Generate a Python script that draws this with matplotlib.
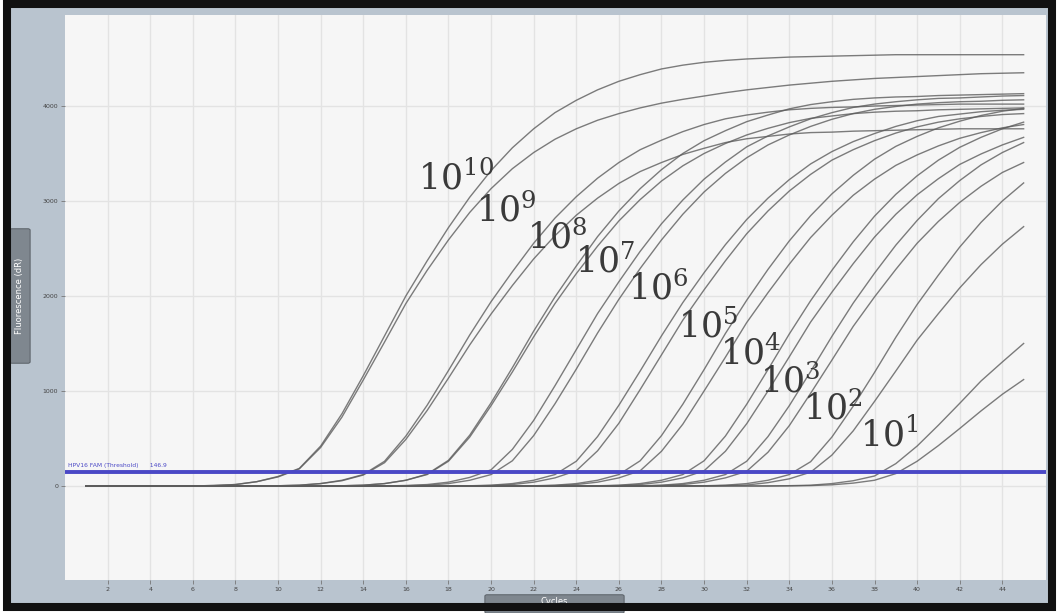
import numpy as np
import matplotlib.pyplot as plt
from matplotlib.patches import Rectangle, FancyBboxPatch

plt.rcParams['mathtext.fontset'] = 'dejavuserif'

W, H = 1062, 613

# dilution series (copies), highest first
dilution_exp = [10, 9, 8, 7, 6, 5, 4, 3, 2, 1]

# FAM dR per cycle (cycles 1..45), two replicates per dilution
fam_1e10_a = [0]*6 + [5, 15, 45, 100, 185, 420, 760, 1160, 1580, 2000, 2370, 2720, 3040, 3320,
                      3560, 3760, 3930, 4060, 4170, 4260, 4330, 4390, 4430, 4460, 4480, 4495, 4505,
                      4515, 4520, 4525, 4530, 4535, 4540, 4540, 4540, 4540, 4540, 4540, 4540]
fam_1e10_b = [0]*6 + [5, 15, 45, 95, 180, 405, 725, 1115, 1515, 1920, 2270, 2590, 2880, 3130,
                      3340, 3510, 3650, 3760, 3850, 3920, 3980, 4030, 4070, 4105, 4140, 4170, 4195,
                      4220, 4240, 4260, 4275, 4290, 4300, 4310, 4320, 4330, 4340, 4345, 4350]
fam_1e9_a = [0]*9 + [2, 8, 25, 60, 120, 260, 525, 850, 1215, 1590, 1940, 2255, 2555, 2820, 3045,
                     3240, 3405, 3540, 3640, 3730, 3805, 3865, 3905, 3935, 3960, 3975, 3985, 3990,
                     4000, 4005, 4010, 4015, 4020, 4020, 4020, 4020]
fam_1e9_b = [0]*9 + [2, 8, 25, 55, 115, 245, 490, 795, 1135, 1485, 1810, 2110, 2390, 2635, 2850,
                     3030, 3185, 3310, 3405, 3490, 3555, 3615, 3655, 3680, 3705, 3720, 3725, 3735,
                     3740, 3745, 3750, 3755, 3760, 3760, 3760, 3760]
fam_1e8_a = [0]*12 + [2, 8, 25, 60, 125, 270, 535, 875, 1245, 1630, 1990, 2315, 2625, 2895, 3130,
                      3330, 3500, 3635, 3740, 3835, 3905, 3970, 4015, 4045, 4070, 4085, 4095, 4100,
                      4110, 4115, 4120, 4125, 4130]
fam_1e8_b = [0]*12 + [2, 8, 25, 60, 120, 260, 515, 845, 1200, 1570, 1920, 2235, 2525, 2790, 3015,
                      3210, 3370, 3500, 3605, 3695, 3765, 3825, 3870, 3895, 3920, 3935, 3945, 3950,
                      3960, 3965, 3970, 3975, 3980]
fam_1e7_a = [0]*15 + [5, 15, 40, 90, 170, 385, 690, 1055, 1435, 1815, 2150, 2470, 2760, 3010, 3230,
                      3410, 3570, 3685, 3780, 3865, 3930, 3985, 4020, 4045, 4065, 4080, 4085, 4095,
                      4105, 4110]
fam_1e7_b = [0]*15 + [2, 8, 25, 60, 120, 265, 530, 865, 1230, 1610, 1965, 2290, 2590, 2860, 3095,
                      3290, 3455, 3590, 3695, 3785, 3860, 3920, 3965, 3995, 4020, 4035, 4045, 4050,
                      4060, 4065]
fam_1e6_a = [0]*18 + [2, 8, 25, 60, 120, 260, 520, 850, 1210, 1580, 1930, 2245, 2540, 2805, 3030,
                      3225, 3390, 3520, 3625, 3710, 3785, 3845, 3890, 3915, 3940, 3955, 3965]
fam_1e6_b = [0]*19 + [5, 15, 40, 85, 160, 370, 660, 1015, 1380, 1745, 2065, 2370, 2655, 2895, 3105,
                      3280, 3430, 3540, 3635, 3715, 3780, 3830, 3865, 3890, 3910, 3920]
fam_1e5_a = [0]*21 + [2, 8, 25, 60, 120, 265, 530, 860, 1225, 1605, 1955, 2280, 2580, 2845, 3075,
                      3270, 3440, 3575, 3680, 3770, 3840, 3900, 3945, 3975]
fam_1e5_b = [0]*22 + [5, 15, 40, 85, 160, 365, 650, 1000, 1355, 1720, 2035, 2335, 2615, 2850, 3060,
                      3230, 3375, 3485, 3580, 3660, 3720, 3770, 3805]
fam_1e4_a = [0]*24 + [2, 8, 25, 60, 120, 265, 525, 860, 1225, 1600, 1950, 2270, 2570, 2840, 3070,
                      3265, 3430, 3565, 3670, 3760, 3830]
fam_1e4_b = [0]*25 + [5, 15, 40, 85, 160, 365, 655, 1000, 1360, 1725, 2040, 2340, 2620, 2860, 3065,
                      3235, 3385, 3495, 3590, 3670]
fam_1e3_a = [0]*26 + [2, 8, 25, 60, 120, 260, 520, 845, 1205, 1575, 1925, 2240, 2535, 2795, 3025,
                      3215, 3380, 3510, 3615]
fam_1e3_b = [0]*27 + [5, 15, 40, 85, 155, 355, 635, 975, 1325, 1680, 1990, 2280, 2555, 2785, 2985,
                      3155, 3300, 3405]
fam_1e2_a = [0]*29 + [2, 8, 25, 60, 120, 255, 515, 840, 1195, 1565, 1910, 2220, 2515, 2775, 3000, 3190]
fam_1e2_b = [0]*30 + [5, 10, 35, 75, 145, 325, 580, 890, 1210, 1535, 1815, 2085, 2330, 2545, 2730]
fam_1e1_a = [0]*33 + [3, 8, 25, 55, 105, 235, 420, 640, 870, 1105, 1305, 1500]
fam_1e1_b = [0]*33 + [1, 4, 12, 30, 60, 130, 260, 425, 605, 790, 965, 1120]

replicates = [
    (fam_1e10_a, fam_1e10_b), (fam_1e9_a, fam_1e9_b), (fam_1e8_a, fam_1e8_b),
    (fam_1e7_a, fam_1e7_b), (fam_1e6_a, fam_1e6_b), (fam_1e5_a, fam_1e5_b),
    (fam_1e4_a, fam_1e4_b), (fam_1e3_a, fam_1e3_b), (fam_1e2_a, fam_1e2_b),
    (fam_1e1_a, fam_1e1_b),
]

threshold = 147
x_ticks = list(range(2, 46, 2))
y_ticks = [0, 1000, 2000, 3000, 4000]

# baseline-left corner of each 10^n tag (cycle, dR)
tag_x = [16.55, 19.27, 21.67, 23.93, 26.41, 28.76, 30.73, 32.61, 34.63, 37.3]
tag_y = [3116, 2779, 2505, 2242, 1958, 1558, 1274, 979, 695, 411]


def fig_box(x, y, w, h):
    # pixel box measured from the top-left corner -> figure fraction
    return (x / W, 1 - (y + h) / H), w / W, h / H


fig = plt.figure(figsize=(W / 100, H / 100), dpi=100, facecolor='white')

# instrument window panel and frame
(px0, py0), pw, ph = fig_box(7, 4, 1045, 602.5)
fig.add_artist(Rectangle((px0, py0), pw, ph, transform=fig.transFigure,
                         facecolor='#b9c4cf', edgecolor='none', zorder=-1))
fig.add_artist(Rectangle((px0, py0), pw, ph, transform=fig.transFigure,
                         facecolor='none', edgecolor='#111111', lw=5.8, zorder=10))

(ax0, ay0), aw, ah = fig_box(65, 15, 981, 565)
ax = fig.add_axes([ax0, ay0, aw, ah])
ax.set_facecolor('#f6f6f6')
for s in ax.spines.values():
    s.set_visible(False)

ax.set_xlim(0, 46.05)
ax.set_ylim(-990, 4958)
ax.set_xticks(x_ticks)
ax.set_yticks(y_ticks)
ax.tick_params(length=3, width=0.6, color='#777777', labelsize=4.5,
               labelcolor='#444444', pad=2)
ax.grid(True, color='#e3e3e3', lw=1.0)
ax.set_axisbelow(True)

for rep_a, rep_b in replicates:
    for vals in (rep_a, rep_b):
        cyc = np.arange(1, len(vals) + 1)
        ax.plot(cyc, vals, color='#5c5c5c', lw=1.0, alpha=0.8, zorder=2,
                solid_joinstyle='round')

ax.axhline(threshold, color='#4a48c6', lw=2.8, zorder=3)
ax.text(0.15, threshold + 45, 'HPV16 FAM (Threshold)      146.9', color='#4a48c6',
        fontsize=4.3, ha='left', va='bottom', zorder=3)

for n, tx, ty in zip(dilution_exp, tag_x, tag_y):
    ax.text(tx, ty, f'$10^{{{n}}}$', fontsize=25, color='#3a3a3a',
            ha='left', va='baseline', zorder=4)

# axis title tabs
(bx, by), bw, bh = fig_box(12, 230, 16, 132)
fig.add_artist(FancyBboxPatch((bx, by), bw, bh, transform=fig.transFigure,
                              boxstyle='round,pad=0.002', facecolor='#7f878f',
                              edgecolor='#50565c', lw=0.6, zorder=3))
fig.text(bx + bw / 2, by + bh / 2, 'Fluorescence (dR)', rotation=90, color='white',
         fontsize=6, ha='center', va='center', zorder=4)

(cx, cy), cw, ch = fig_box(487, 596, 135, 16)
fig.add_artist(FancyBboxPatch((cx, cy), cw, ch, transform=fig.transFigure,
                              boxstyle='round,pad=0.002', facecolor='#7f878f',
                              edgecolor='#50565c', lw=0.6, zorder=3))
fig.text(cx + cw / 2, 1 - 601 / H, 'Cycles', color='white', fontsize=6,
         ha='center', va='center', zorder=4)

fig.savefig('out.png', dpi=100)
